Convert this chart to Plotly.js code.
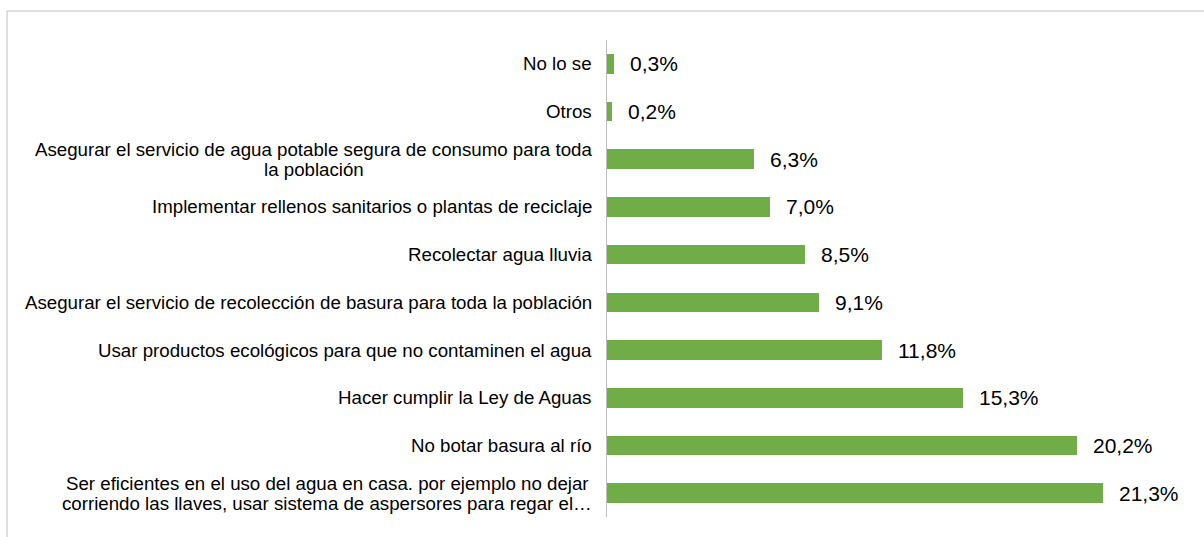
<!DOCTYPE html>
<html>
<head>
<meta charset="utf-8">
<script src="https://cdn.plot.ly/plotly-3.0.1.min.js"></script>
<style>
html,body{margin:0;padding:0;background:#fff;}
#chart{width:1204px;height:537px;}
</style>
</head>
<body>
<div id="chart"></div>
<script>
// Categories, top to bottom
const categories = [
  "No lo se",
  "Otros",
  "Asegurar el servicio de agua potable segura de consumo para toda<br>la población",
  "Implementar rellenos sanitarios o plantas de reciclaje",
  "Recolectar agua lluvia",
  "Asegurar el servicio de recolección de basura para toda la población",
  "Usar productos ecológicos para que no contaminen el agua",
  "Hacer cumplir la Ley de Aguas",
  "No botar basura al río",
  "Ser eficientes en el uso del agua en casa. por ejemplo no dejar<br>corriendo las llaves, usar sistema de aspersores para regar el…"
];
const values = [0.3, 0.2, 6.3, 7.0, 8.5, 9.1, 11.8, 15.3, 20.2, 21.3];
const valueLabels = values.map(v => v.toFixed(1).replace('.', ',') + '%');

const W = 1204, H = 537;
const ml = 607, mr = 15, mt = 40, mb = 20;
const pw = W - ml - mr, ph = H - mt - mb;

const FONT = 'Liberation Sans, Arial, sans-serif';
const labelSize = 18.7, valueSize = 21;
const lineStep = 20;

const trace = {
  type: 'bar',
  orientation: 'h',
  x: values,
  y: categories,
  width: 0.41,
  marker: {color: '#70AD47'},
  hoverinfo: 'skip'
};

// text measurement for centred multi-line labels
const ctx = document.createElement('canvas').getContext('2d');
ctx.font = labelSize + 'px "Liberation Sans", Arial, sans-serif';

const annotations = [];
categories.forEach((c, i) => {
  const lines = c.split('<br>');
  const maxW = Math.max(...lines.map(l => ctx.measureText(l).width));
  lines.forEach((ln, k) => {
    annotations.push({
      xref: 'paper', yref: 'y', x: 0, y: c,
      text: ln, showarrow: false,
      xanchor: 'center', yanchor: 'middle',
      xshift: -15 - maxW / 2,
      yshift: ((lines.length - 1) / 2 - k) * lineStep,
      font: {family: FONT, size: labelSize, color: '#000'}
    });
  });
  annotations.push({
    xref: 'x', yref: 'y', x: values[i], y: c,
    text: valueLabels[i], showarrow: false,
    xanchor: 'left', yanchor: 'middle',
    xshift: 14,
    font: {family: FONT, size: valueSize, color: '#000'}
  });
});

// frame (left and top edges)
const fx = (7 - ml) / pw;
const fyTop = (H - mb - 11) / ph;
const fyBot = -(mb + 5) / ph;
const fxRight = (W + 5 - ml) / pw;

const layout = {
  width: W, height: H,
  margin: {l: ml, r: mr, t: mt, b: mb, pad: 0},
  paper_bgcolor: '#fff', plot_bgcolor: '#fff',
  showlegend: false,
  bargap: 0,
  xaxis: {range: [0, 25], showgrid: false, zeroline: false, showticklabels: false, ticks: '', showline: false, fixedrange: true},
  yaxis: {type: 'category', autorange: 'reversed', showgrid: false, zeroline: false, showticklabels: false, ticks: '',
          showline: true, linecolor: '#bfbfbf', linewidth: 1, fixedrange: true},
  annotations: annotations,
  shapes: [{
    type: 'path', xref: 'paper', yref: 'paper',
    path: `M ${fx} ${fyBot} L ${fx} ${fyTop} L ${fxRight} ${fyTop}`,
    line: {color: '#bfbfbf', width: 1}
  }]
};

Plotly.newPlot('chart', [trace], layout, {displayModeBar: false, staticPlot: true});
</script>
</body>
</html>
